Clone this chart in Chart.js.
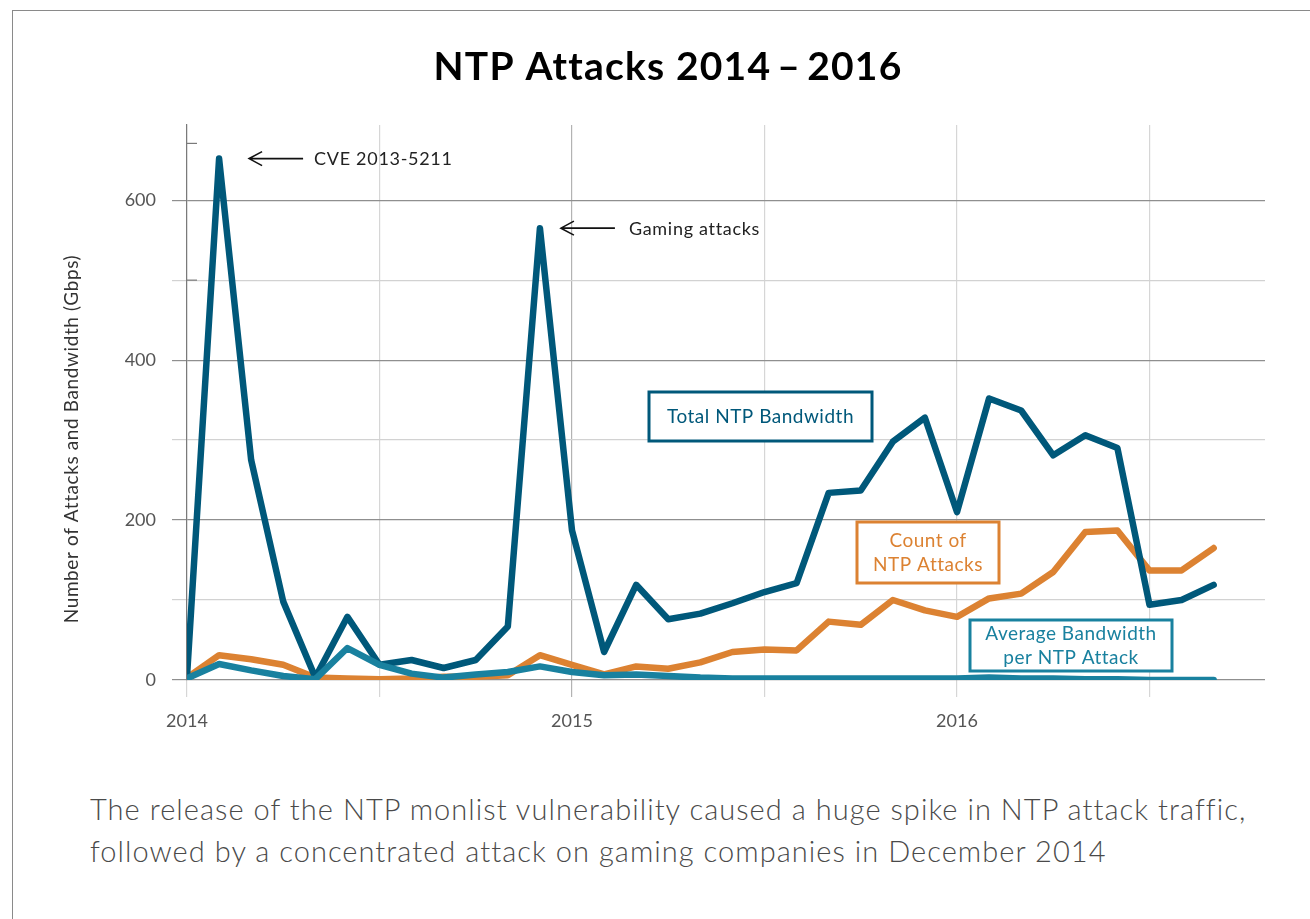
<!DOCTYPE html>
<html>
<head>
<meta charset="utf-8">
<script src="https://cdn.jsdelivr.net/npm/chart.js@4/dist/chart.umd.min.js"></script>
<style>
  html, body { margin: 0; padding: 0; background: #fff; }
  body { width: 1310px; height: 919px; position: relative; overflow: hidden; font-family: Lato, "Noto Sans", sans-serif; }
  .frame { position: absolute; left: 12px; top: 10px; width: 1400px; height: 1000px; border: 1px solid #8a8a8a; }
  .wrap { position: absolute; left: 0; top: 0; width: 1310px; height: 750px; }
  .caption { position: absolute; left: 90px; top: 788px; font-size: 29px; font-weight: 300; line-height: 42px; color: #4a4a4a; letter-spacing: 1.05px; }
</style>
</head>
<body>
<div class="frame"></div>
<div class="wrap"><canvas id="ntpChart"></canvas></div>
<div class="caption">The release of the NTP monlist vulnerability caused a huge spike in NTP attack traffic,<br>followed by a concentrated attack on gaming companies in December 2014</div>
<script>
// monthly values, Jan 2014 .. Sep 2016
const months = [
  '2014-01', '2014-02', '2014-03', '2014-04', '2014-05', '2014-06', '2014-07', '2014-08', '2014-09', '2014-10', '2014-11', '2014-12',
  '2015-01', '2015-02', '2015-03', '2015-04', '2015-05', '2015-06', '2015-07', '2015-08', '2015-09', '2015-10', '2015-11', '2015-12',
  '2016-01', '2016-02', '2016-03', '2016-04', '2016-05', '2016-06', '2016-07', '2016-08', '2016-09'
];
const totalBandwidth = [4, 652, 275, 98, 3, 79, 19, 25, 15, 25, 67, 565, 187, 35, 119, 76, 83, 96, 110, 121, 234, 237, 298, 328, 210, 352, 337, 281, 306, 290, 94, 100, 119];
const attackCount = [3, 31, 26, 19, 3, 2, 1, 2, 4, 4, 6, 31, 19, 7, 17, 14, 22, 35, 38, 37, 73, 69, 100, 87, 79, 102, 108, 135, 185, 187, 137, 137, 165];
const avgBandwidth = [2, 20, 12, 5, 1, 40, 19, 8, 3, 7, 10, 17, 10, 6, 7, 5, 3, 2, 2, 2, 2, 2, 2, 2, 2, 3, 2, 2, 1, 1, 0, 0, 0];
const yearTicks = [2014, 2015, 2016];
const yTickValues = [0, 100, 200, 300, 400, 500, 600];
const yTickLabels = [0, 200, 400, 600];

const COL_TOTAL = '#00587a';
const COL_COUNT = '#dc8232';
const COL_AVG = '#19819f';

const toPoints = vals => vals.map((v, i) => ({ x: i, y: v }));

function arrow(ctx, tipX, tipY, len) {
  ctx.save();
  ctx.strokeStyle = '#111';
  ctx.lineWidth = 1.6;
  ctx.beginPath();
  ctx.moveTo(tipX, tipY);
  ctx.lineTo(tipX + len, tipY);
  ctx.moveTo(tipX + 13, tipY - 7);
  ctx.lineTo(tipX, tipY);
  ctx.lineTo(tipX + 13, tipY + 7);
  ctx.stroke();
  ctx.restore();
}

function labelBox(ctx, x1, y1, x2, y2, color, lines) {
  ctx.save();
  ctx.fillStyle = '#fff';
  ctx.fillRect(x1, y1, x2 - x1, y2 - y1);
  ctx.strokeStyle = color;
  ctx.lineWidth = 3;
  ctx.strokeRect(x1, y1, x2 - x1, y2 - y1);
  ctx.fillStyle = color;
  ctx.font = '19px Lato';
  ctx.letterSpacing = '0.5px';
  ctx.textAlign = 'center';
  ctx.textBaseline = 'middle';
  const cx = (x1 + x2) / 2, cy = (y1 + y2) / 2, lh = 24;
  lines.forEach((t, i) => ctx.fillText(t, cx, cy + (i - (lines.length - 1) / 2) * lh));
  ctx.restore();
}

const annotations = {
  id: 'annotations',
  afterDraw(chart) {
    const { ctx, scales: { x, y } } = chart;

    // title
    ctx.save();
    ctx.font = 'bold 39px Lato';
    ctx.letterSpacing = '1.2px';
    ctx.fillStyle = '#000';
    ctx.textAlign = 'center';
    ctx.textBaseline = 'alphabetic';
    ctx.fillText('NTP Attacks 2014\u2009\u2013\u20092016', 668, 80);
    ctx.restore();

    // y axis title
    ctx.save();
    ctx.translate(72, 439);
    ctx.rotate(-Math.PI / 2);
    ctx.font = '19px Lato';
    ctx.letterSpacing = '0.6px';
    ctx.fillStyle = '#333';
    ctx.textAlign = 'center';
    ctx.textBaseline = 'middle';
    ctx.fillText('Number of Attacks and Bandwidth (Gbps)', 0, 0);
    ctx.restore();

    // small marks on the y axis line
    ctx.save();
    ctx.strokeStyle = '#7a7a7a';
    ctx.lineWidth = 1.2;
    [500, 671].forEach(v => {
      const py = y.getPixelForValue(v);
      ctx.beginPath();
      ctx.moveTo(x.left, py);
      ctx.lineTo(x.left + 10, py);
      ctx.stroke();
    });
    ctx.restore();

    // peak call-outs
    const cveI = totalBandwidth.indexOf(Math.max(...totalBandwidth));
    const gameI = 11;
    const cx = x.getPixelForValue(cveI), cy = y.getPixelForValue(totalBandwidth[cveI]);
    const gx = x.getPixelForValue(gameI), gy = y.getPixelForValue(totalBandwidth[gameI]);
    arrow(ctx, cx + 30, cy, 54);
    arrow(ctx, gx + 21, gy, 54);
    ctx.save();
    ctx.font = '18px Lato';
    ctx.letterSpacing = '0.7px';
    ctx.fillStyle = '#222';
    ctx.textBaseline = 'middle';
    ctx.fillText('CVE 2013-5211', cx + 95, cy + 1);
    ctx.fillText('Gaming attacks', gx + 89, gy + 1);
    ctx.restore();

    labelBox(ctx, 649, 392, 872, 441, COL_TOTAL, ['Total NTP Bandwidth']);
    labelBox(ctx, 857, 522, 999, 583, COL_COUNT, ['Count of', 'NTP Attacks']);
    labelBox(ctx, 970, 620, 1172, 671, COL_AVG, ['Average Bandwidth', 'per NTP Attack']);
  }
};

const lineStyle = { borderWidth: 6.5, pointRadius: 0, tension: 0, borderJoinStyle: 'round', borderCapStyle: 'round', fill: false };

new Chart(document.getElementById('ntpChart'), {
  type: 'line',
  data: {
    datasets: [
      { label: 'Average Bandwidth per NTP Attack', data: toPoints(avgBandwidth), borderColor: COL_AVG, ...lineStyle, order: 1 },
      { label: 'Count of NTP Attacks', data: toPoints(attackCount), borderColor: COL_COUNT, ...lineStyle, order: 3 },
      { label: 'Total NTP Bandwidth', data: toPoints(totalBandwidth), borderColor: COL_TOTAL, ...lineStyle, order: 2 }
    ]
  },
  options: {
    responsive: true,
    maintainAspectRatio: false,
    animation: false,
    layout: { padding: { left: 12, right: 45, top: 125, bottom: 0 } },
    plugins: {
      legend: { display: false },
      tooltip: { enabled: false },
      title: { display: false }
    },
    scales: {
      x: {
        type: 'linear',
        min: 0,
        max: 33.6,
        bounds: 'data',
        afterFit: s => { s.height = 70; },
        afterBuildTicks: s => { s.ticks = [0, 6, 12, 18, 24, 30].map(v => ({ value: v })); },
        border: { display: false },
        grid: {
          color: c => (c.tick && Math.round(c.tick.value) === 12) ? '#b3b3b3' : '#d6d6d6',
          tickColor: c => (c.tick && Math.round(c.tick.value) === 12) ? '#b3b3b3' : '#d6d6d6',
          tickLength: 17,
          lineWidth: 1.2
        },
        ticks: {
          autoSkip: false,
          maxRotation: 0,
          padding: 13,
          color: '#555',
          font: { family: 'Lato', size: 18 },
          callback: v => {
            const m = Math.round(v);
            return (m % 12 === 0 && yearTicks.includes(2014 + m / 12)) ? String(2014 + m / 12) : '';
          }
        }
      },
      y: {
        min: 0,
        max: 694,
        bounds: 'data',
        afterFit: s => { s.width = 175; },
        afterBuildTicks: s => { s.ticks = yTickValues.map(v => ({ value: v })); },
        border: { display: true, color: '#7a7a7a', width: 1.2 },
        grid: {
          color: c => (c.tick && Math.round(c.tick.value) % 200 === 0) ? '#8f8f8f' : '#d2d2d2',
          tickColor: c => (c.tick && Math.round(c.tick.value) % 200 === 0) ? '#8f8f8f' : '#d2d2d2',
          tickLength: 15,
          lineWidth: 1.2
        },
        ticks: {
          autoSkip: false,
          padding: 16,
          color: '#555',
          font: { family: 'Lato', size: 18 },
          callback: v => yTickLabels.includes(Math.round(v)) ? String(Math.round(v)) : ''
        }
      }
    }
  },
  plugins: [annotations]
});
</script>
</body>
</html>
